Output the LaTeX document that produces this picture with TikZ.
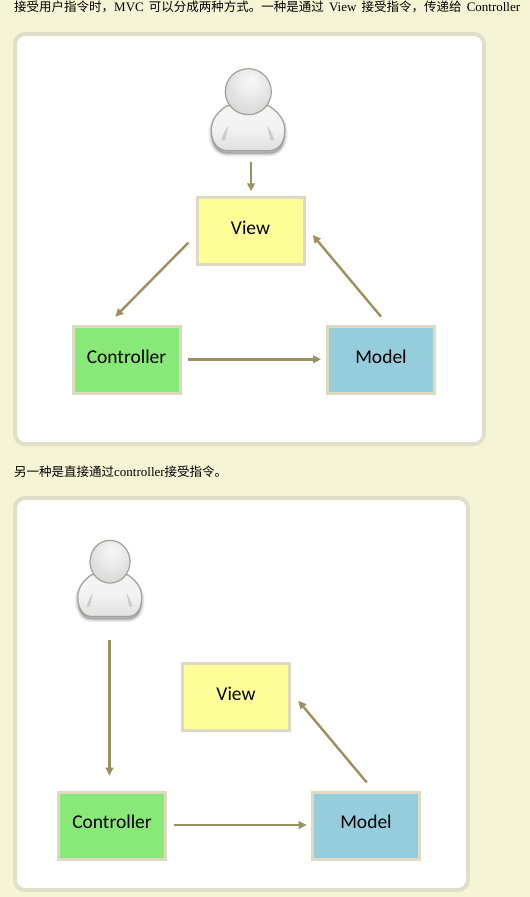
\documentclass[tikz,border=0pt]{standalone}
\usepackage{fontspec}
\setmainfont{Liberation Serif}
\newfontfamily\cjfont{Noto Sans CJK SC}
\newfontfamily\labfont{Carlito}
\usetikzlibrary{arrows.meta,calc,shadings}
\definecolor{pagebg}{HTML}{F5F4D5}
\definecolor{panelrim}{HTML}{E0E0CA}
\definecolor{boxrim}{HTML}{DDD9C3}
\definecolor{viewfill}{HTML}{FFFF99}
\definecolor{ctrlfill}{HTML}{88E878}
\definecolor{modelfill}{HTML}{95CDDC}
\definecolor{arrowcol}{HTML}{9A9060}
\definecolor{useredge}{HTML}{A0A09C}
\newcommand{\cj}[1]{{\cjfont\fontsize{12.5}{14}\selectfont #1}}
\newcommand{\lat}[1]{{\fontsize{13}{14}\selectfont #1}}
\pgfdeclareradialshading{headshade}{\pgfpoint{3pt}{14pt}}{color(0pt)=(white!97!black);color(12pt)=(white!93!black);color(30pt)=(white!85!black);color(50pt)=(white!80!black)}
\newcommand{\bodypath}{(-21,14) .. controls (-30,19) and (-37,28) .. (-37,38) .. controls (-37,52) and (-30,59) .. (-20,59) -- (20,59) .. controls (30,59) and (36.5,52) .. (36.5,38) .. controls (36.5,28) and (29,19) .. (20,14) -- cycle}
\newcommand{\userfig}[4]{%
  \begin{scope}[shift={(#1,#2)},xscale=#3,yscale=#4]
    \foreach \w in {1,2,...,6}{
      \draw[black,opacity=0.035,line width=\w*1.0pt,fill=black,yshift=-3pt] \bodypath;
    }
    \draw[useredge,line width=1.2pt,top color=white!96!black,bottom color=white!88!black,middle color=white!95!black] \bodypath;
    \fill[white!80!black] (-23,48) -- (-27,49) .. controls (-25,42) and (-23,38) .. (-20,34) .. controls (-21,39) and (-22,43) .. (-23,48) -- cycle;
    \fill[white!80!black] (22,48) -- (26,49) .. controls (24,42) and (22,38) .. (19,34) .. controls (20,39) and (21,43) .. (22,48) -- cycle;
    \draw[useredge,line width=1.2pt,shading=headshade] (0,0) circle [radius=23];
  \end{scope}}
\tikzset{
  x=1pt,y=-1pt,
  panel/.style={draw=panelrim,line width=4pt,fill=white,rounded corners=10pt},
  mvcbox/.style={draw=boxrim,line width=3pt,minimum width=107pt,minimum height=67pt,inner sep=0pt,
    text height=12pt,text depth=6pt,text=black,font=\labfont\fontsize{19.5}{21}\selectfont},
  flow/.style={draw=arrowcol,line width=2.4pt,-{Triangle[length=8pt,width=7.5pt]}},
  para/.style={anchor=base west,inner sep=0pt,text=black},
}
\begin{document}
\begin{tikzpicture}
\useasboundingbox (0,0) rectangle (530,897);
\fill[pagebg] (0,0) rectangle (530,897);
\node[para] (line1) at (14,11.5) {\makebox[506pt][s]{\cj{接受用户指令时，}\lat{MVC}\hfill\cj{可以分成两种方式。一种是通过}\hfill\lat{View}\hfill\cj{接受指令，传递给}\hfill\lat{Controller}}};
\node[para] (line2) at (14,476) {\cj{另一种是直接通过}\lat{controller}\cj{接受指令。}};
\draw[panel] (15,34) rectangle (484,444);
\draw[panel] (15,498) rectangle (468,890);
% first figure
\node[mvcbox,fill=viewfill] (view1) at (250.5,231.3) {View};
\node[mvcbox,fill=ctrlfill] (ctrl1) at (126.5,360.3) {Controller};
\node[mvcbox,fill=modelfill] (model1) at (381,360.3) {Model};
\coordinate (user1) at (248.3,91.7);
\userfig{248.3}{91.7}{1}{1}
\draw[flow] ($(user1)+(2.7,70)$) -- ($(view1)+(0.5,-40)$);
\draw[flow] ($(view1)+(-62.2,11.4)$) -- ($(ctrl1)+(-11.2,-43.6)$);
\draw[flow] ($(ctrl1)+(61.5,-1)$) -- ($(model1)+(-60,-1)$);
\draw[flow] ($(model1)+(0,-43.6)$) -- ($(view1)+(62.2,3.7)$);
% second figure
\node[mvcbox,fill=viewfill] (view2) at (236,697.3) {View};
\node[mvcbox,fill=ctrlfill] (ctrl2) at (112,825.7) {Controller};
\node[mvcbox,fill=modelfill] (model2) at (366,825.7) {Model};
\coordinate (user2) at (110,561.7);
\userfig{110}{561.7}{.87}{.93}
\draw[flow] ($(user2)+(-0.5,78.3)$) -- ($(ctrl2)+(-2.5,-50)$);
\draw[flow] ($(ctrl2)+(61.5,-0.7)$) -- ($(model2)+(-59.3,-0.7)$);
\draw[flow] ($(model2)+(0.7,-43.3)$) -- ($(view2)+(62.3,3.4)$);
\end{tikzpicture}
\end{document}
